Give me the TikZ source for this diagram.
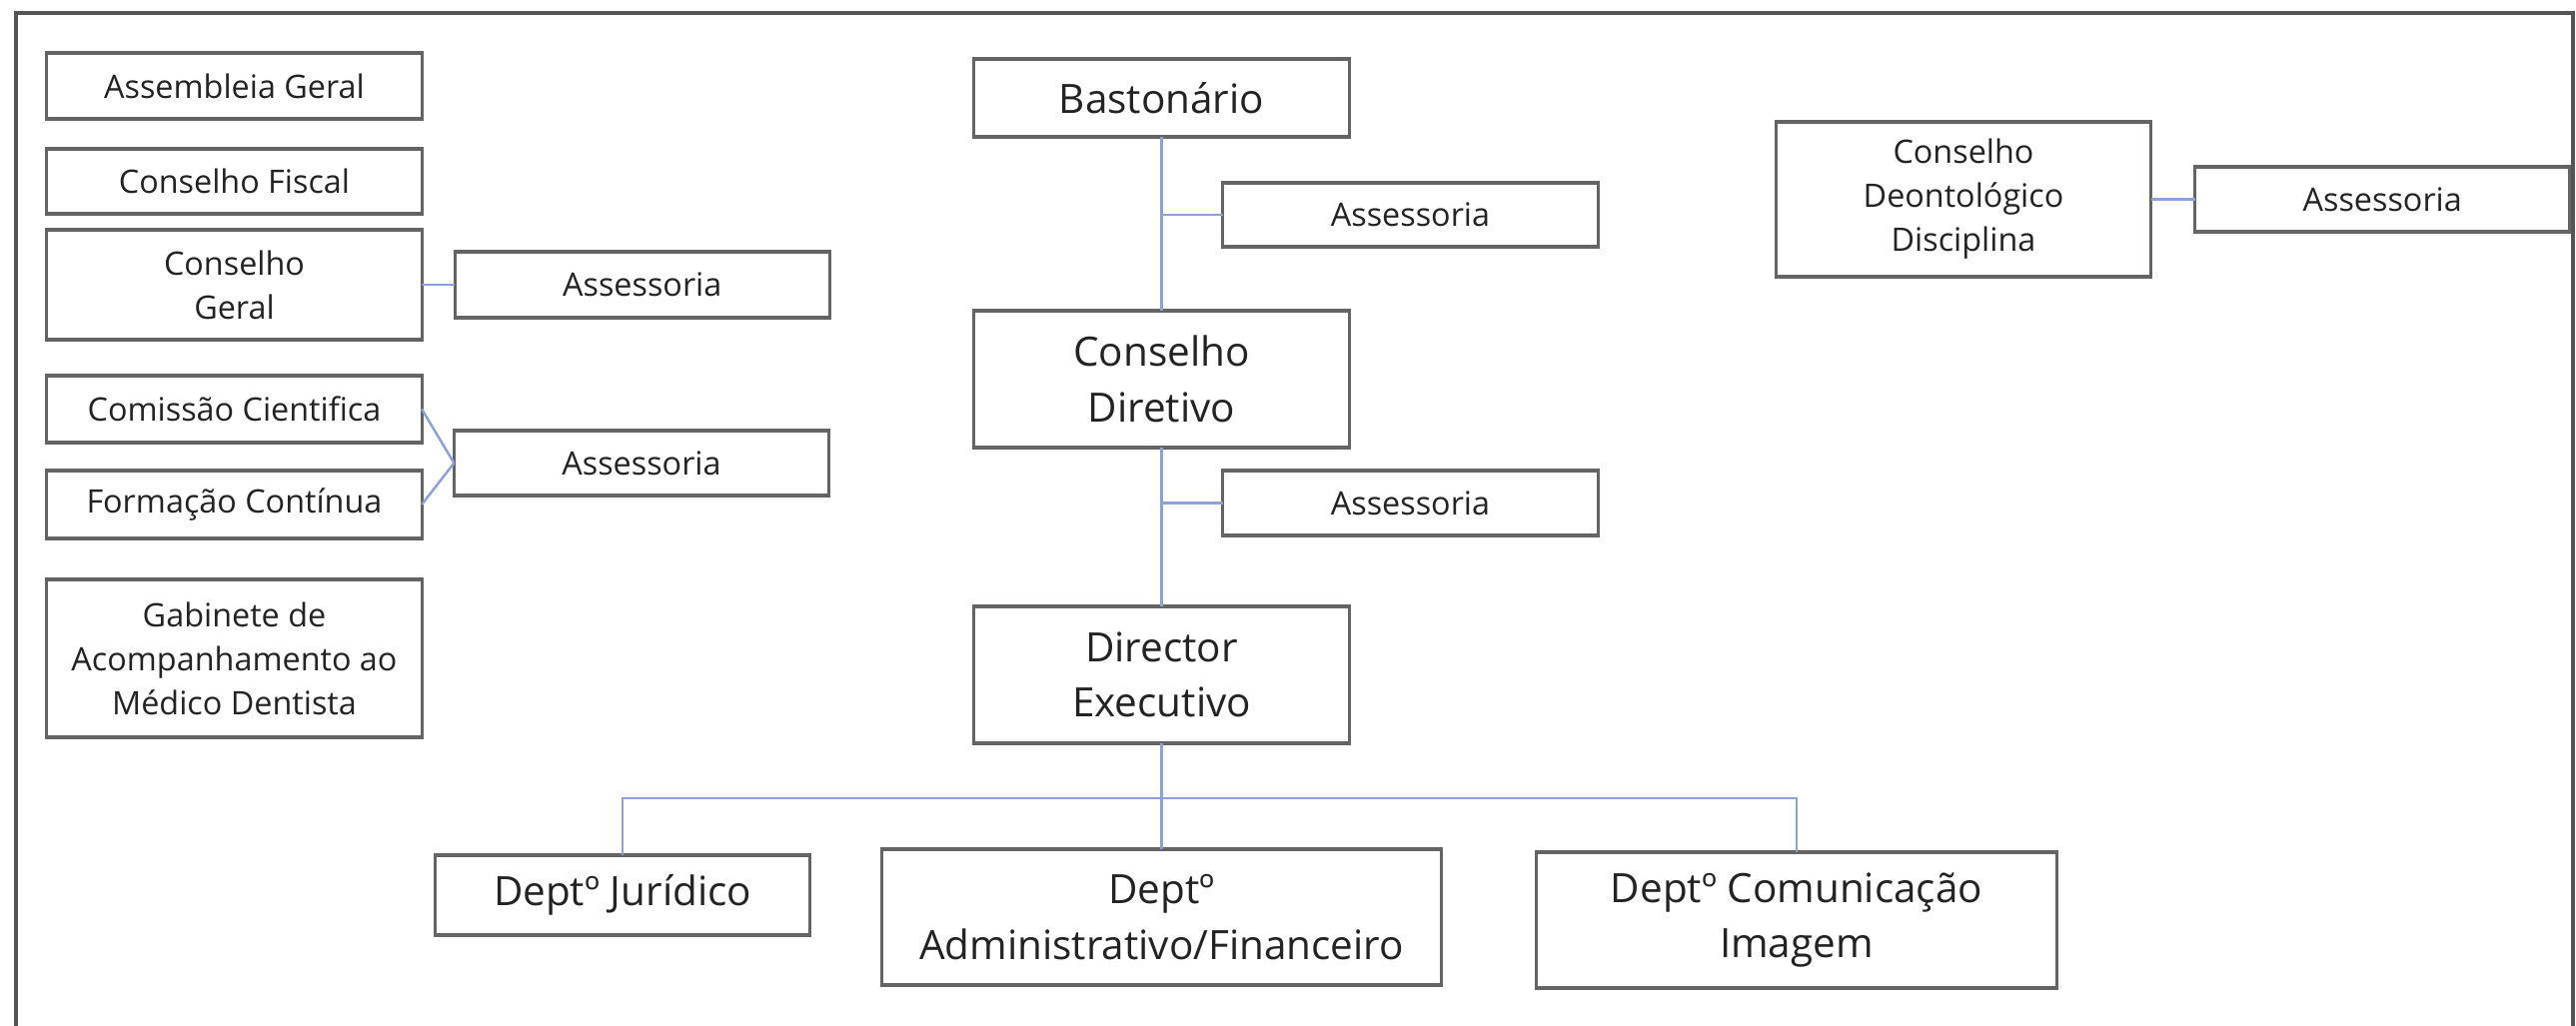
\documentclass[tikz,border=0pt]{standalone}
\usepackage{fontspec}
\setmainfont{Open Sans}
\usetikzlibrary{positioning}
\definecolor{boxgray}{RGB}{100,100,100}
\definecolor{linkblue}{RGB}{140,160,222}
\definecolor{framegray}{RGB}{85,85,85}
\definecolor{txtgray}{RGB}{35,35,35}

\begin{document}
\begin{tikzpicture}[x=0.01cm,y=-0.01cm,semithick]
\tikzstyle{every node}=[text=txtgray,inner sep=0pt,outer sep=0pt,align=center]
\tikzstyle{unit}=[draw=boxgray,line width=0.9pt,fill=white,
                  minimum width=3.75cm,font=\fontsize{9.2}{12.5}\selectfont]
\tikzstyle{board}=[unit,font=\fontsize{11.5}{15.8}\selectfont]
\tikzstyle{link}=[draw=linkblue,line width=0.7pt]

\useasboundingbox (0,0) rectangle (2578,1026);
\draw[framegray,line width=1.3pt] (16,1060) -- (16,13) -- (2575,13) -- (2575,1060);

% left column
\node [unit,minimum height=0.66cm] (ag) at (234.5,86) {Assembleia Geral};
\node [unit,minimum height=0.65cm] (cf) at (234.5,181.5) {Conselho Fiscal};
\node [unit,minimum height=1.10cm] (cg) at (234.5,285) {Conselho\\Geral};
\node [unit,minimum height=0.66cm] (acg) [right=0.33cm of cg] {Assessoria};
\node [unit,minimum height=0.67cm] (cc) at (234.5,409.5) {Comissão Cientifica};
\node [unit,minimum height=0.68cm] (fc) at (234.5,505) {Formação Contínua};
\node [unit,minimum height=0.65cm] (acc) at (642,463.5) {Assessoria};
\node [unit,minimum height=1.58cm] (gab) at (234.5,659)
      {Gabinete de\\Acompanhamento ao\\Médico Dentista};

% centre column
\node [board,minimum height=0.78cm] (bast) at (1162.5,98) {Bastonário};
\node [unit,minimum height=0.64cm] (ab) at (1411.5,215) {Assessoria};
\node [board,minimum height=1.37cm] (cd) at (1162.5,379.5) {Conselho\\Diretivo};
\node [unit,minimum height=0.65cm] (acd) at (1411.5,503.5) {Assessoria};
\node [board,minimum height=1.37cm] (de) at (1162.5,675.5) {Director\\Executivo};

% departments
\node [board,minimum height=0.80cm,minimum width=3.74cm] (dj) at (623,896) {Deptº Jurídico};
\node [board,minimum height=1.36cm,minimum width=5.59cm] (da) at (1162.5,918)
      {Deptº\\Administrativo/Financeiro};
\node [board,minimum height=1.36cm,minimum width=5.20cm] (dc) at (1798,921)
      {Deptº Comunicação\\Imagem};

% right column
\node [unit,minimum height=1.55cm] (cdd) at (1965,199.5)
      {Conselho\\Deontológico\\Disciplina};
\node [unit,minimum height=0.65cm] (acdd) [right=0.44cm of cdd] {Assessoria};

\coordinate (bus) at (de.south |- 0,799);

\path[link]
    (bast.south) edge (cd.north)
    (cd.south) edge (de.north)
    (de.south) edge (da.north)
    (ab.west) edge (ab.west -| bast.south)
    (acd.west) edge (acd.west -| cd.south)
    (cg.east) edge (acg.west)
    (cc.east) edge (acc.west)
    (fc.east) edge (acc.west)
    (cdd.east) edge (acdd.west);

\draw[link] (dj.north) |- (bus) -| (dc.north);

\end{tikzpicture}
\end{document}
